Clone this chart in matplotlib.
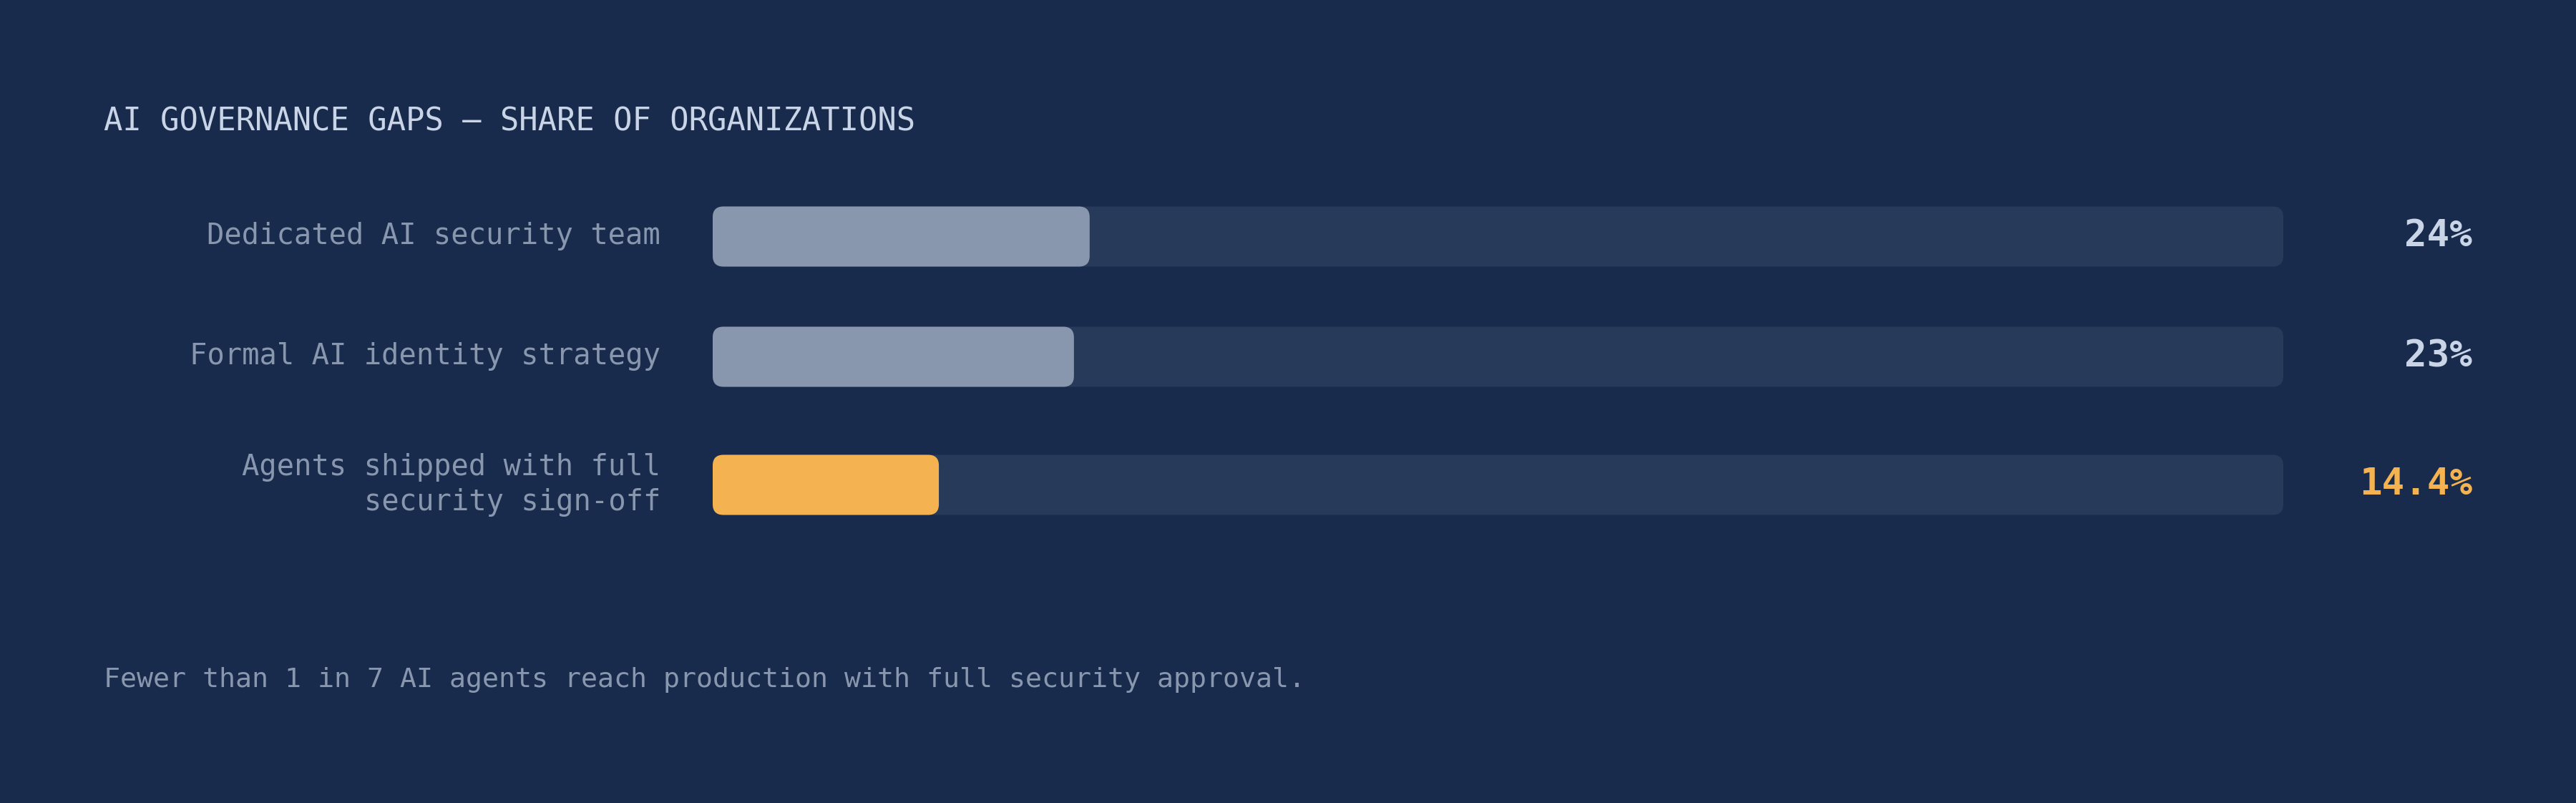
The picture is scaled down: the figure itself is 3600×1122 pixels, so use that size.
import matplotlib
matplotlib.use("Agg")
import matplotlib.pyplot as plt
from matplotlib.patches import FancyBboxPatch

# ---- data ----
categories = ["Dedicated AI security team",
              "Formal AI identity strategy",
              "Agents shipped with full\nsecurity sign-off"]
values = [24, 23, 14.4]
value_labels = ["24%", "23%", "14.4%"]
highlight = [False, False, True]
title = "AI GOVERNANCE GAPS \u2014 SHARE OF ORGANIZATIONS"
footnote = "Fewer than 1 in 7 AI agents reach production with full security approval."

# ---- style ----
BG = "#182B4C"
TRACK = "#283A5A"
FILL = "#8897AE"
ORANGE = "#F4B350"
LABEL_C = "#8897AE"
VALUE_C = "#C9D4E6"
TITLE_C = "#C9D4E6"
MONO = ["DejaVu Sans Mono"]

W, H, DPI = 3600, 1122, 200
fig = plt.figure(figsize=(W / DPI, H / DPI), dpi=DPI, facecolor=BG)

# bar area in pixels
track_left, track_right = 996, 3191
top_px, bot_px = 250, 760
ax = fig.add_axes([track_left / W, 1 - bot_px / H,
                   (track_right - track_left) / W, (bot_px - top_px) / H])
ax.set_xlim(0, 100)
ax.set_ylim(bot_px, top_px)  # y units = pixels from top
ax.axis("off")
ax.set_facecolor(BG)

row_centers = [330.5, 498.5, 677.5]
bar_h = 84
radius_px = 15
px_per_x = (track_right - track_left) / 100.0
r_x = radius_px / px_per_x
aspect = px_per_x  # y units per x unit (pixel-equal)

for cat, val, lab, hl, yc in zip(categories, values, value_labels, highlight, row_centers):
    y0 = yc - bar_h / 2
    ax.add_patch(FancyBboxPatch((0, y0), 100, bar_h,
                                boxstyle=f"round,pad=0,rounding_size={r_x}",
                                mutation_aspect=aspect, fc=TRACK, ec="none"))
    ax.add_patch(FancyBboxPatch((0, y0), val, bar_h,
                                boxstyle=f"round,pad=0,rounding_size={r_x}",
                                mutation_aspect=aspect, fc=ORANGE if hl else FILL, ec="none"))
    ax.annotate(cat, xy=(0, yc), xytext=(-73 * 72 / DPI, 0), textcoords="offset points",
                ha="right", va="center", multialignment="right", linespacing=1.3,
                fontsize=14.6, color=LABEL_C, family=MONO, annotation_clip=False)
    ax.annotate(lab, xy=(100, yc), xytext=(264 * 72 / DPI, 0), textcoords="offset points",
                ha="right", va="center", fontsize=18.9, fontweight="bold",
                color=ORANGE if hl else VALUE_C, family=MONO, annotation_clip=False)

fig.text(145 / W, 1 - 170 / H, title, ha="left", va="center", fontsize=15.8,
         color=TITLE_C, family=MONO)
fig.text(145 / W, 1 - 950 / H, footnote, ha="left", va="center", fontsize=13.75,
         color=LABEL_C, family=MONO)

fig.savefig("out.png", dpi=DPI, facecolor=BG)
